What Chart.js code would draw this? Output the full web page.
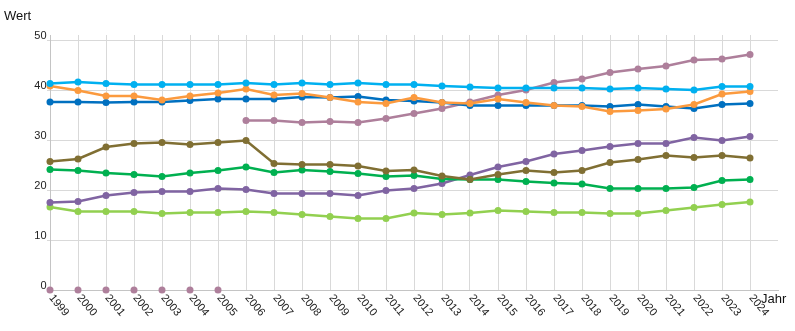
<!DOCTYPE html>
<html lang="de">
<head>
<meta charset="utf-8">
<title>Wert nach Jahr</title>
<script src="https://cdn.jsdelivr.net/npm/chart.js@4.4.1/dist/chart.umd.min.js"></script>
<style>
  html, body { margin: 0; padding: 0; background: #fff; }
  #chart { display: block; }
</style>
</head>
<body>
<canvas id="chart" width="795" height="331"></canvas>
<script>
// === Daten ===
// letzte Kategorie bleibt leer (Platz rechts neben 2024)
const jahre = ["1999", "2000", "2001", "2002", "2003", "2004", "2005", "2006", "2007", "2008",
  "2009", "2010", "2011", "2012", "2013", "2014", "2015", "2016", "2017", "2018",
  "2019", "2020", "2021", "2022", "2023", "2024", ""];
const yTicks = [0, 10, 20, 30, 40, 50];

const hellblau = [41.3, 41.6, 41.3, 41.1, 41.1, 41.1, 41.1, 41.4, 41.1, 41.4, 41.1, 41.4, 41.1,
  41.1, 40.8, 40.6, 40.4, 40.4, 40.4, 40.4, 40.2, 40.4, 40.2, 40.0, 40.7, 40.7];
const orange = [40.8, 39.9, 38.8, 38.8, 38.0, 38.8, 39.4, 40.2, 39.0, 39.3, 38.5, 37.6, 37.3,
  38.5, 37.5, 37.3, 38.2, 37.5, 36.9, 36.7, 35.7, 35.9, 36.2, 37.1, 39.2, 39.7];
const dunkelblau = [37.6, 37.6, 37.5, 37.6, 37.6, 37.9, 38.2, 38.2, 38.2, 38.6, 38.5, 38.7, 38.0,
  37.8, 37.5, 36.9, 36.9, 36.9, 36.9, 36.9, 36.7, 37.1, 36.7, 36.3, 37.1, 37.3];
// 1999-2005 ohne Wert (0), nur als Punkte
const mauve = [0, 0, 0, 0, 0, 0, 0, 33.9, 33.9, 33.5, 33.7, 33.5, 34.3,
  35.3, 36.3, 37.6, 39.0, 40.0, 41.5, 42.2, 43.5, 44.2, 44.8, 46.0, 46.2, 47.1];
const oliv = [25.7, 26.2, 28.6, 29.3, 29.5, 29.1, 29.5, 29.9, 25.3, 25.1, 25.1, 24.8, 23.8,
  24.0, 22.8, 22.1, 23.1, 23.9, 23.5, 23.9, 25.5, 26.1, 26.9, 26.5, 26.9, 26.4];
const gruen = [24.1, 23.9, 23.4, 23.1, 22.7, 23.4, 23.9, 24.6, 23.5, 24.0, 23.7, 23.3, 22.7,
  22.9, 22.2, 22.1, 22.1, 21.7, 21.4, 21.2, 20.3, 20.3, 20.3, 20.5, 21.9, 22.1];
const lila = [17.5, 17.7, 18.9, 19.5, 19.7, 19.7, 20.3, 20.1, 19.3, 19.3, 19.3, 18.9, 19.9,
  20.3, 21.3, 23.0, 24.6, 25.7, 27.2, 27.9, 28.7, 29.3, 29.3, 30.5, 29.9, 30.7];
const hellgruen = [16.6, 15.7, 15.7, 15.7, 15.3, 15.5, 15.5, 15.7, 15.5, 15.1, 14.7, 14.3, 14.3,
  15.4, 15.1, 15.4, 15.9, 15.7, 15.5, 15.5, 15.3, 15.3, 15.9, 16.5, 17.1, 17.6];

const schrift = "'Liberation Sans', Arial, sans-serif";
const gitter = "#d9d9d9";

function linie(werte, farbe, extra) {
  return Object.assign({
    data: werte,
    borderColor: farbe,
    backgroundColor: farbe,
    pointBackgroundColor: farbe,
    pointBorderWidth: 0,
    pointRadius: 3.5,
    borderWidth: 2.5,
    tension: 0,
    fill: false,
    clip: false
  }, extra || {});
}

// Achsenbeschriftungen von Hand: Jahre schräg nach unten, Werte knapp über der Linie
const beschriftung = {
  id: "beschriftung",
  afterDraw(chart) {
    const { ctx, scales: { x, y } } = chart;
    ctx.save();
    ctx.fillStyle = "#222";
    ctx.font = "11px " + schrift;

    ctx.textAlign = "right";
    ctx.textBaseline = "alphabetic";
    yTicks.forEach(v => {
      ctx.fillText(String(v), x.left - 3.5, y.getPixelForValue(v) - 1);
    });

    ctx.textAlign = "left";
    ctx.textBaseline = "middle";
    jahre.forEach((j, i) => {
      if (!j) return;
      ctx.save();
      ctx.translate(x.getPixelForTick(i) + 1, y.bottom + 6);
      ctx.rotate(50 * Math.PI / 180);
      ctx.fillText(j, 0, 0);
      ctx.restore();
    });

    ctx.fillStyle = "#111";
    ctx.font = "13px " + schrift;
    ctx.textBaseline = "alphabetic";
    ctx.fillText("Wert", 4, 20);
    ctx.fillText("Jahr", 761, 303);
    ctx.restore();
  }
};

const ctx = document.getElementById("chart").getContext("2d");
const chart = new Chart(ctx, {
  type: "line",
  data: {
    labels: jahre,
    datasets: [
      linie(hellblau, "#00b0f0"),
      linie(orange, "#fb9a3e"),
      linie(dunkelblau, "#0070c0"),
      linie(mauve, "#ae7f9b", {
        segment: {
          borderColor: c => (c.p0.parsed.y === 0 || c.p1.parsed.y === 0) ? "transparent" : undefined
        }
      }),
      linie(oliv, "#806f33"),
      linie(gruen, "#00b050"),
      linie(lila, "#8064a2"),
      linie(hellgruen, "#92d050")
    ]
  },
  options: {
    responsive: false,
    devicePixelRatio: 1,
    animation: false,
    layout: { padding: { left: 0, top: 35, right: 17, bottom: 0 } },
    plugins: {
      legend: { display: false },
      tooltip: { enabled: false }
    },
    scales: {
      x: {
        type: "category",
        offset: false,
        ticks: { display: false, autoSkip: false },
        grid: {
          color: c => c.index === jahre.length - 1 ? "transparent" : gitter,
          drawTicks: false
        },
        border: { color: "#c4c4c4" },
        afterFit: s => { s.height = 41; }
      },
      y: {
        min: 0,
        max: 51,
        ticks: { display: false, stepSize: 10, includeBounds: false },
        grid: { color: gitter, drawTicks: true, tickLength: 3 },
        border: { color: "#c4c4c4" },
        afterFit: s => { s.width = 50; }
      }
    }
  },
  plugins: [beschriftung]
});
</script>
</body>
</html>
